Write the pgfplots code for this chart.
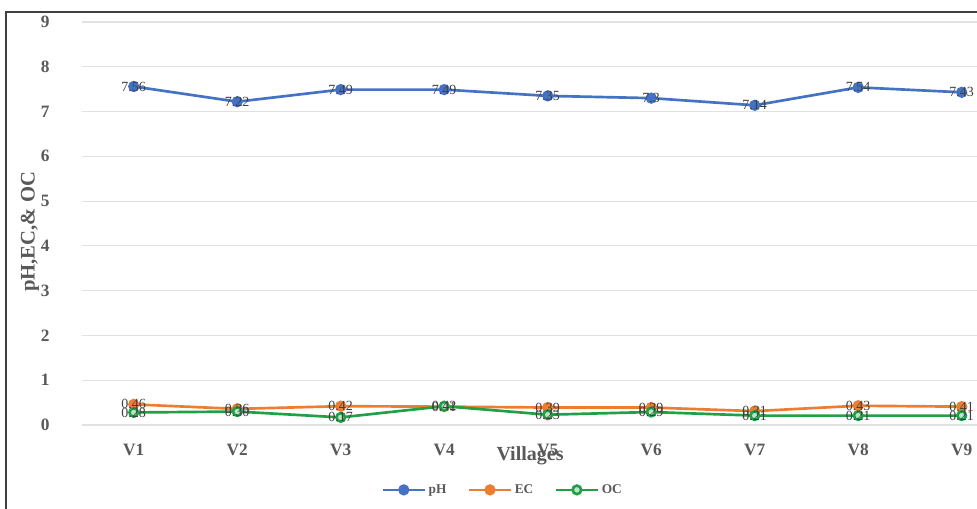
\documentclass[border=0pt]{standalone}
\usepackage{fontspec}
\setmainfont{Liberation Serif}
\usepackage{pgfplots}
\pgfplotsset{compat=1.18}

\definecolor{phblue}{RGB}{68,114,196}
\definecolor{ecorange}{RGB}{237,125,49}
\definecolor{ocgreen}{RGB}{34,160,70}
\definecolor{tickgray}{RGB}{89,89,89}
\definecolor{gridgray}{RGB}{225,225,225}

\begin{document}
\begin{tikzpicture}[x=0.75pt, y=0.75pt]
  \useasboundingbox (0,0) rectangle (977,508);
  \fill[white] (0,0) rectangle (977,508);
  \draw[black!75, line width=0.8pt] (6,-20) rectangle (1010,496);
  \coordinate (ll) at (82,83);
  \begin{axis}[
    at={(ll)}, anchor=south west,
    scale only axis,
    width=698.6pt, height=302.25pt,
    xmin=0.5, xmax=9.5,
    ymin=0, ymax=9,
    xtick={1,...,9},
    xticklabels={V1,V2,V3,V4,V5,V6,V7,V8,V9},
    ytick={0,...,9},
    axis line style={draw=none},
    major tick length=0pt,
    ymajorgrids,
    grid style={gridgray, line width=0.8pt},
    /pgf/number format/assume math mode=true,
    yticklabel style={anchor=center, xshift=-27.5pt,
      font=\fontsize{13}{15}\selectfont\bfseries, text=tickgray},
    xticklabel style={anchor=center, yshift=-19pt,
      font=\fontsize{13}{15}\selectfont\bfseries, text=tickgray},
    xlabel={Villages},
    ylabel={pH,EC,\& OC},
    xlabel style={at={(axis description cs:0.481,-0.077)}, anchor=center,
      font=\fontsize{15}{17}\selectfont\bfseries, text=tickgray},
    ylabel style={at={(axis description cs:-0.056,0.479)}, anchor=center,
      font=\fontsize{15.5}{17}\selectfont\bfseries, text=tickgray},
    legend columns=3,
    legend style={at={(0.452,-0.161)}, anchor=center, draw=none,
      fill=none, font=\fontsize{10}{11}\selectfont\bfseries,
      text=tickgray, /tikz/every even column/.append style={column sep=14pt}},
    legend image code/.code={
      \draw[#1, mark repeat=2, mark phase=2]
        plot coordinates {(0cm,0cm) (0.55cm,0cm) (1.1cm,0cm)};},
    point meta=explicit symbolic,
    nodes near coords,
    nodes near coords style={anchor=center,
      font=\fontsize{10.5}{12}\selectfont, text=black!75},
    every axis plot/.append style={line width=2pt, mark size=3.2pt},
    clip=false,
  ]
    \addplot[phblue, mark=*, mark options={fill=phblue}] coordinates {
      (1,7.56) [7.56] (2,7.22) [7.22] (3,7.49) [7.49]
      (4,7.49) [7.49] (5,7.35) [7.35] (6,7.3) [7.3]
      (7,7.14) [7.14] (8,7.54) [7.54] (9,7.43) [7.43]
    };
    \addlegendentry{pH}
    \addplot[ecorange, mark=*, mark options={fill=ecorange}] coordinates {
      (1,0.46) [0.46] (2,0.36) [0.36] (3,0.42) [0.42]
      (4,0.41) [0.41] (5,0.39) [0.39] (6,0.39) [0.39]
      (7,0.31) [0.31] (8,0.43) [0.43] (9,0.41) [0.41]
    };
    \addlegendentry{EC}
    \addplot[ocgreen, mark=*, mark options={fill=ocgreen!30!white}] coordinates {
      (1,0.28) [0.28] (2,0.30) [0.30] (3,0.17) [0.17]
      (4,0.42) [0.42] (5,0.23) [0.23] (6,0.29) [0.29]
      (7,0.21) [0.21] (8,0.21) [0.21] (9,0.21) [0.21]
    };
    \addlegendentry{OC}
  \end{axis}
\end{tikzpicture}
\end{document}
